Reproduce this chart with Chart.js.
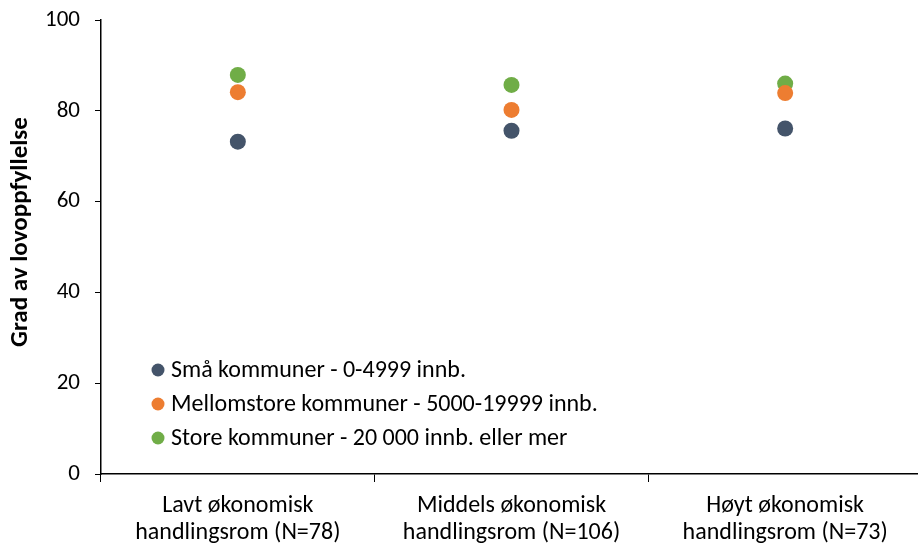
<!DOCTYPE html>
<html>
<head>
<meta charset="utf-8">
<script src="https://cdn.jsdelivr.net/npm/chart.js@4"></script>
<style>
    html, body { margin: 0; padding: 0; overflow: hidden; background: #fff; }
    #wrap { width: 930px; height: 544px; position: relative; }
</style>
</head>
<body>
<div id="wrap"><canvas id="chart"></canvas></div>
<script>
const categories = [
    ['Lavt økonomisk', 'handlingsrom (N=78)'],
    ['Middels økonomisk', 'handlingsrom (N=106)'],
    ['Høyt økonomisk', 'handlingsrom (N=73)']
];
const smaValues = [73.2, 75.6, 76.1];
const mellomValues = [84.1, 80.2, 83.9];
const storeValues = [87.9, 85.7, 86.0];
const yTicks = [0, 20, 40, 60, 80, 100];
const yTitle = 'Grad av lovoppfyllelse';

const fontFamily = 'Carlito, "Open Sans", sans-serif';

function series(label, data, color) {
    return {
        label: label,
        data: data,
        showLine: false,
        backgroundColor: color,
        borderColor: color,
        pointRadius: 8,
        pointHoverRadius: 8,
        pointBorderWidth: 0,
        clip: false
    };
}

// legend inside the plot (bottom left) and the y title, drawn by hand
const extras = {
    id: 'extras',
    afterDraw(chart) {
        const ctx = chart.ctx;
        ctx.save();
        ctx.font = '24px ' + fontFamily;
        ctx.textBaseline = 'middle';
        chart.data.datasets.forEach((ds, i) => {
            const y = 370 + i * 34;
            ctx.fillStyle = ds.backgroundColor;
            ctx.beginPath();
            ctx.arc(158, y, 6.5, 0, Math.PI * 2);
            ctx.fill();
            ctx.fillStyle = '#000';
            ctx.fillText(ds.label, 171, y + 1);
        });
        ctx.translate(20, 232);
        ctx.rotate(-Math.PI / 2);
        ctx.textAlign = 'center';
        ctx.font = 'bold 25px ' + fontFamily;
        ctx.fillText(yTitle, 0, 1);
        ctx.restore();
    }
};

const ctx = document.getElementById('chart').getContext('2d');
new Chart(ctx, {
    type: 'line',
    data: {
        labels: categories,
        datasets: [
            series('Små kommuner - 0-4999 innb.', smaValues, '#44546A'),
            series('Mellomstore kommuner - 5000-19999 innb.', mellomValues, '#ED7D31'),
            series('Store kommuner - 20 000 innb. eller mer', storeValues, '#70AD47')
        ]
    },
    options: {
        responsive: true,
        maintainAspectRatio: false,
        animation: false,
        layout: { padding: { top: 20, left: 0, right: 0, bottom: 0 } },
        plugins: {
            legend: { display: false },
            tooltip: { enabled: false }
        },
        scales: {
            x: {
                offset: true,
                grid: {
                    offset: true,
                    drawOnChartArea: false,
                    drawTicks: true,
                    tickLength: 8,
                    color: '#000'
                },
                border: { display: true, color: '#000', width: 1.5 },
                ticks: {
                    color: '#000',
                    font: { family: fontFamily, size: 24, lineHeight: 1.12 },
                    padding: 11,
                    maxRotation: 0,
                    autoSkip: false
                },
                afterFit(scale) {
                    scale.height = 70;
                    scale.paddingLeft = 0;
                    scale.paddingRight = 0;
                }
            },
            y: {
                min: 0,
                max: 100,
                afterBuildTicks(scale) {
                    scale.ticks = yTicks.map(v => ({ value: v }));
                },
                grid: {
                    drawOnChartArea: false,
                    drawTicks: true,
                    tickLength: 6,
                    color: '#000'
                },
                border: { display: true, color: '#000', width: 1.5 },
                ticks: {
                    color: '#000',
                    font: { family: fontFamily, size: 23 },
                    padding: 15
                },
                afterFit(scale) {
                    scale.width = 101;
                    scale.paddingTop = 0;
                    scale.paddingBottom = 0;
                }
            }
        }
    },
    plugins: [extras]
});
</script>
</body>
</html>
